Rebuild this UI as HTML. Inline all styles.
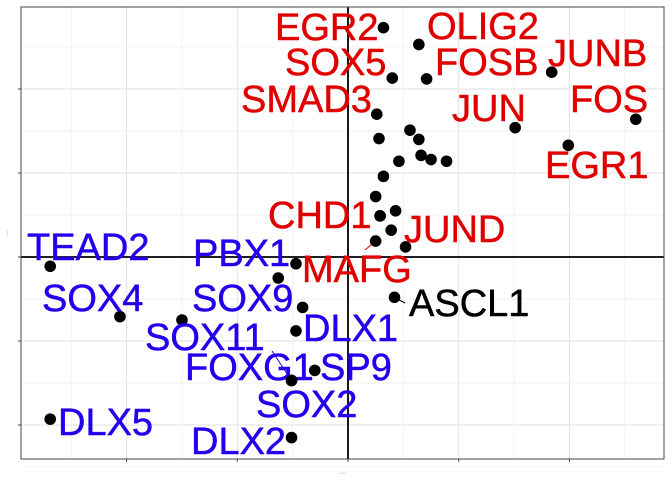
<!DOCTYPE html>
<html><head><meta charset="utf-8"><style>
body{margin:0;background:#fff}
svg{display:block;font-family:"Liberation Sans",Arial,sans-serif}
</style></head><body>
<svg id="chart" width="672" height="480" viewBox="0 0 672 480"></svg>
<script>
const genes=["EGR2","OLIG2","SOX5","FOSB","JUNB","SMAD3","JUN","FOS","EGR1","CHD1","JUND","MAFG","ASCL1","TEAD2","PBX1","SOX4","SOX9","DLX1","SOX11","FOXG1","SP9","SOX2","DLX5","DLX2"];
const xs=[0.32,0.64,0.40,0.71,1.84,0.26,1.51,2.60,1.99,0.29,0.52,0.25,0.42,-2.69,-0.47,-2.06,-0.41,-0.47,-1.50,-0.51,-0.30,-0.51,-2.69,-0.51];
const ys=[2.73,2.53,2.13,2.12,2.20,1.70,1.54,1.64,1.33,0.49,0.12,0.19,-0.48,-0.11,-0.08,-0.71,-0.60,-0.88,-0.75,-1.47,-1.35,-1.47,-1.93,-2.15];
const groups=["up","up","up","up","up","up","up","up","up","up","up","up","other","down","down","down","down","down","down","down","down","down","down","down"];
const labelX=[275,427,285,435,548,241,452,570,545,268,404,302,409,27,193,42,192,303,145,185,320,256,58,191];
const labelY=[40,39,75,75,66,112,121,112,178,228,242,282,316,260,266,311,311,341,350,380,380,417,435,454];
const extraX=[0.28,0.56,0.64,0.66,0.75,0.89,0.46,0.32,0.25,0.29,0.43,0.39,-0.63];
const extraY=[1.41,1.51,1.40,1.21,1.16,1.14,1.14,0.96,0.72,0.49,0.55,0.32,-0.25];
const xTicks=[-2,-1,0,1,2];
const yTicks=[-2,-1,0,1,2];
const colors={up:"#e00000",down:"#2200ee",other:"#000"};
const L=21,R=664,T=7,B=459;
const sx=v=>348+v*110.7, sy=v=>257-v*84;
const svg=document.getElementById('chart');
const NS="http://www.w3.org/2000/svg";
function mk(tag,attrs,parent){const e=document.createElementNS(NS,tag);for(const k in attrs)e.setAttribute(k,attrs[k]);(parent||svg).appendChild(e);return e;}
const bg=mk('rect',{x:L,y:T,width:R-L,height:B-T,fill:'#fff'});


for(const t of xTicks){
  const m=t-0.5;
  const gm=mk('line',{x1:sx(m),x2:sx(m),y1:T,y2:B,stroke:'#f0f0f0','stroke-width':0.8});
  
  
  const g=mk('line',{x1:sx(t),x2:sx(t),y1:T,y2:B,stroke:'#e6e6e6','stroke-width':1.2});
  
  
  const tk=mk('line',{x1:sx(t),x2:sx(t),y1:B,y2:B+3,stroke:'#444'});
  
  
}
[2.5].forEach(m=>{const gm=mk('line',{x1:sx(m),x2:sx(m),y1:T,y2:B,stroke:'#f0f0f0','stroke-width':0.8});});
for(const t of yTicks){
  [t-0.5,t+0.5].forEach(m=>{const gm=mk('line',{x1:L,x2:R,y1:sy(m),y2:sy(m),stroke:'#f0f0f0','stroke-width':0.8});});
  const g=mk('line',{x1:L,x2:R,y1:sy(t),y2:sy(t),stroke:'#e6e6e6','stroke-width':1.2});
  
  
  const tk=mk('line',{x1:L-3,x2:L,y1:sy(t),y2:sy(t),stroke:'#444'});
  
  
}
const h=mk('line',{x1:L,x2:R,y1:sy(0),y2:sy(0),stroke:'#000','stroke-width':1.8});


const v=mk('line',{x1:sx(0),x2:sx(0),y1:T,y2:B,stroke:'#000','stroke-width':1.8});


const fr=mk('rect',{x:L,y:T,width:R-L,height:B-T,fill:'none',stroke:'#444','stroke-width':1});


const segs=[[11,365,250],[19,272,351],[12,405,303]];
for(const [i,x2,y2] of segs){
  const s=mk('line',{x1:sx(xs[i]),y1:sy(ys[i]),x2:x2,y2:y2,stroke:colors[groups[i]],'stroke-width':1});
  
  
}
for(let i=0;i<extraX.length;i++){
  const c=mk('circle',{cx:sx(extraX[i]),cy:sy(extraY[i]),r:5.8,fill:'#000'});
  
  
}
for(let i=0;i<genes.length;i++){
  const c=mk('circle',{cx:sx(xs[i]),cy:sy(ys[i]),r:5.8,fill:'#000'});
  
  
  const t=mk('text',{x:labelX[i],y:labelY[i],'font-size':38,fill:colors[groups[i]],stroke:colors[groups[i]],'stroke-width':0.5});
  t.textContent=genes[i];
  
  
}
const xt=mk('text',{x:342,y:474,'font-size':3,fill:'#bbb','text-anchor':'middle'});
xt.textContent='x axis';


const yt=mk('text',{x:8,y:233,'font-size':3,fill:'#bbb','text-anchor':'middle',transform:'rotate(-90 8 233)'});
yt.textContent='y axis';


</script>
</body></html>
